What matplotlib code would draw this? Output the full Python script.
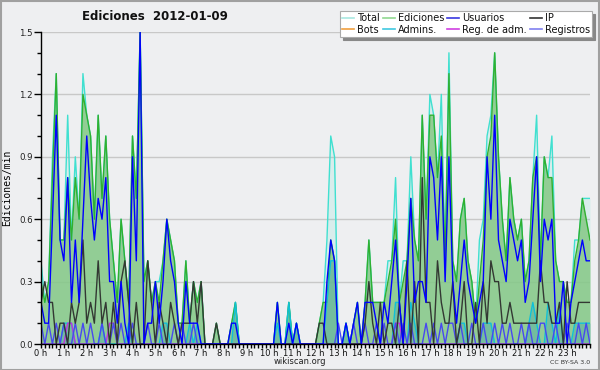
import matplotlib
matplotlib.use("Agg")
import matplotlib.pyplot as plt
from matplotlib.lines import Line2D
from matplotlib.patches import Rectangle
import numpy as np

# 10-minute bins, 0h .. 24h (145 points), values in edits/min
ediciones = [
    0.3, 0.2, 0.3, 0.8, 1.3, 0.5,
    0.5, 0.8, 0.5, 0.8, 0.6, 1.2,
    1.1, 1.0, 0.6, 1.1, 0.7, 1.0,
    0.6, 0.4, 0.2, 0.6, 0.4, 0.2,
    1.0, 0.7, 1.5, 0.3, 0.4, 0.2,
    0.3, 0.2, 0.4, 0.6, 0.5, 0.4,
    0.1, 0.1, 0.4, 0.1, 0.3, 0.2,
    0.3, 0.0, 0.0, 0.0, 0.1, 0.0,
    0.0, 0.0, 0.1, 0.2, 0.0, 0.0,
    0.0, 0.0, 0.0, 0.0, 0.0, 0.0,
    0.0, 0.0, 0.2, 0.0, 0.0, 0.2,
    0.0, 0.1, 0.0, 0.0, 0.0, 0.0,
    0.0, 0.1, 0.2, 0.2, 0.5, 0.4,
    0.0, 0.0, 0.1, 0.0, 0.1, 0.2,
    0.0, 0.2, 0.5, 0.2, 0.2, 0.2,
    0.2, 0.3, 0.4, 0.6, 0.2, 0.3,
    0.4, 0.7, 0.5, 0.4, 1.1, 0.6,
    1.1, 1.1, 0.8, 1.0, 0.4, 1.3,
    0.4, 0.3, 0.6, 0.7, 0.4, 0.3,
    0.1, 0.3, 0.5, 0.9, 1.0, 1.4,
    0.9, 0.6, 0.4, 0.8, 0.6, 0.5,
    0.6, 0.3, 0.4, 0.8, 0.9, 0.4,
    0.9, 0.8, 0.8, 0.4, 0.3, 0.3,
    0.2, 0.2, 0.4, 0.5, 0.7, 0.6,
    0.5,
]

total = [
    0.4, 0.2, 0.3, 0.9, 1.3, 0.5,
    0.5, 1.1, 0.5, 0.9, 0.6, 1.3,
    1.1, 1.0, 0.6, 1.1, 0.7, 1.0,
    0.6, 0.4, 0.2, 0.6, 0.4, 0.2,
    1.0, 0.7, 1.5, 0.3, 0.4, 0.2,
    0.3, 0.3, 0.4, 0.6, 0.5, 0.4,
    0.1, 0.1, 0.4, 0.1, 0.3, 0.2,
    0.3, 0.0, 0.0, 0.0, 0.1, 0.0,
    0.0, 0.0, 0.1, 0.2, 0.0, 0.0,
    0.0, 0.0, 0.0, 0.0, 0.0, 0.0,
    0.0, 0.0, 0.2, 0.0, 0.0, 0.2,
    0.0, 0.1, 0.0, 0.0, 0.0, 0.0,
    0.0, 0.1, 0.2, 0.5, 1.0, 0.9,
    0.0, 0.0, 0.1, 0.0, 0.1, 0.2,
    0.0, 0.2, 0.5, 0.2, 0.2, 0.2,
    0.2, 0.4, 0.4, 0.8, 0.2, 0.4,
    0.4, 0.9, 0.5, 0.4, 1.1, 0.6,
    1.2, 1.1, 0.8, 1.2, 0.4, 1.4,
    0.4, 0.3, 0.6, 0.7, 0.4, 0.3,
    0.1, 0.5, 0.6, 1.0, 1.1, 1.4,
    0.9, 0.6, 0.4, 0.8, 0.6, 0.5,
    0.6, 0.3, 0.4, 0.8, 1.1, 0.4,
    0.9, 0.8, 1.0, 0.4, 0.3, 0.3,
    0.2, 0.2, 0.5, 0.5, 0.7, 0.7,
    0.7,
]

usuarios = [
    0.2, 0.1, 0.1, 0.6, 1.1, 0.5,
    0.4, 0.8, 0.2, 0.5, 0.2, 0.6,
    1.0, 0.7, 0.5, 0.7, 0.6, 0.8,
    0.3, 0.3, 0.1, 0.3, 0.1, 0.0,
    0.9, 0.4, 1.5, 0.0, 0.1, 0.1,
    0.3, 0.1, 0.3, 0.6, 0.4, 0.3,
    0.1, 0.0, 0.3, 0.1, 0.1, 0.1,
    0.0, 0.0, 0.0, 0.0, 0.0, 0.0,
    0.0, 0.0, 0.1, 0.1, 0.0, 0.0,
    0.0, 0.0, 0.0, 0.0, 0.0, 0.0,
    0.0, 0.0, 0.2, 0.0, 0.0, 0.1,
    0.0, 0.1, 0.0, 0.0, 0.0, 0.0,
    0.0, 0.0, 0.0, 0.3, 0.5, 0.4,
    0.0, 0.0, 0.1, 0.0, 0.1, 0.2,
    0.0, 0.2, 0.2, 0.2, 0.1, 0.0,
    0.2, 0.1, 0.3, 0.5, 0.2, 0.0,
    0.3, 0.7, 0.2, 0.3, 0.3, 0.2,
    0.9, 0.8, 0.5, 0.9, 0.3, 0.9,
    0.3, 0.1, 0.3, 0.5, 0.3, 0.2,
    0.1, 0.2, 0.3, 0.9, 0.6, 1.1,
    0.5, 0.4, 0.3, 0.6, 0.5, 0.4,
    0.5, 0.2, 0.3, 0.6, 0.9, 0.3,
    0.6, 0.5, 0.6, 0.1, 0.1, 0.3,
    0.0, 0.2, 0.3, 0.4, 0.5, 0.4,
    0.4,
]

ip = [
    0.2, 0.3, 0.2, 0.2, 0.0, 0.1,
    0.1, 0.0, 0.2, 0.1, 0.2, 0.5,
    0.1, 0.2, 0.1, 0.4, 0.1, 0.2,
    0.0, 0.2, 0.0, 0.3, 0.4, 0.2,
    0.0, 0.2, 0.0, 0.0, 0.4, 0.2,
    0.0, 0.2, 0.1, 0.0, 0.2, 0.1,
    0.0, 0.1, 0.1, 0.1, 0.3, 0.1,
    0.3, 0.0, 0.0, 0.0, 0.1, 0.0,
    0.0, 0.0, 0.0, 0.0, 0.0, 0.0,
    0.0, 0.0, 0.0, 0.0, 0.0, 0.0,
    0.0, 0.0, 0.0, 0.0, 0.0, 0.0,
    0.0, 0.0, 0.0, 0.0, 0.0, 0.0,
    0.0, 0.1, 0.1, 0.0, 0.0, 0.0,
    0.0, 0.0, 0.0, 0.0, 0.0, 0.0,
    0.0, 0.1, 0.3, 0.1, 0.0, 0.2,
    0.0, 0.1, 0.1, 0.0, 0.2, 0.0,
    0.4, 0.0, 0.3, 0.0, 0.8, 0.2,
    0.2, 0.0, 0.4, 0.2, 0.1, 0.1,
    0.3, 0.0, 0.1, 0.3, 0.0, 0.0,
    0.2, 0.0, 0.3, 0.1, 0.4, 0.3,
    0.3, 0.1, 0.1, 0.2, 0.1, 0.1,
    0.1, 0.1, 0.1, 0.1, 0.1, 0.4,
    0.2, 0.2, 0.1, 0.1, 0.2, 0.0,
    0.3, 0.1, 0.1, 0.2, 0.2, 0.2,
    0.2,
]

admins = [
    0.0, 0.0, 0.0, 0.0, 0.0, 0.0,
    0.1, 0.1, 0.1, 0.0, 0.0, 0.0,
    0.0, 0.0, 0.0, 0.0, 0.1, 0.0,
    0.0, 0.0, 0.0, 0.0, 0.0, 0.1,
    0.0, 0.0, 0.0, 0.0, 0.0, 0.0,
    0.0, 0.0, 0.1, 0.1, 0.0, 0.0,
    0.0, 0.0, 0.0, 0.1, 0.0, 0.1,
    0.0, 0.0, 0.0, 0.0, 0.0, 0.0,
    0.0, 0.0, 0.0, 0.2, 0.0, 0.0,
    0.0, 0.0, 0.0, 0.0, 0.0, 0.0,
    0.0, 0.0, 0.1, 0.0, 0.0, 0.2,
    0.0, 0.1, 0.0, 0.0, 0.0, 0.0,
    0.0, 0.0, 0.0, 0.2, 0.4, 0.4,
    0.0, 0.0, 0.1, 0.0, 0.0, 0.0,
    0.0, 0.0, 0.0, 0.0, 0.0, 0.0,
    0.0, 0.0, 0.0, 0.2, 0.2, 0.0,
    0.0, 0.2, 0.1, 0.0, 0.0, 0.0,
    0.0, 0.0, 0.0, 0.0, 0.0, 0.0,
    0.0, 0.0, 0.1, 0.1, 0.0, 0.0,
    0.0, 0.0, 0.1, 0.1, 0.1, 0.0,
    0.0, 0.0, 0.0, 0.0, 0.0, 0.0,
    0.0, 0.0, 0.1, 0.2, 0.1, 0.0,
    0.0, 0.2, 0.1, 0.0, 0.2, 0.0,
    0.0, 0.0, 0.1, 0.1, 0.1, 0.1,
    0.1,
]

reg_adm = [
    0.0, 0.0, 0.0, 0.0, 0.0, 0.0,
    0.0, 0.1, 0.1, 0.0, 0.0, 0.0,
    0.0, 0.0, 0.0, 0.0, 0.0, 0.0,
    0.1, 0.1, 0.0, 0.0, 0.0, 0.0,
] + [0.0] * 69 + [0.1, 0.1] + [0.0] * 50

registros = [
    0.1, 0.0, 0.1, 0.0, 0.1, 0.0,
    0.1, 0.0, 0.0, 0.1, 0.0, 0.1,
    0.0, 0.1, 0.0, 0.0, 0.1, 0.0,
    0.0, 0.1, 0.0, 0.1, 0.0, 0.0,
    0.1, 0.0, 0.0, 0.0, 0.1, 0.0,
    0.0, 0.1, 0.0, 0.0, 0.0, 0.1,
    0.0, 0.1, 0.0, 0.0, 0.1, 0.0,
] + [0.0] * 36 + [
    0.1, 0.0, 0.0, 0.0, 0.1, 0.0,
    0.0, 0.1, 0.0, 0.0, 0.1, 0.0,
    0.1, 0.0, 0.0, 0.1, 0.0, 0.1,
    0.0, 0.1, 0.0, 0.0, 0.0, 0.1,
    0.0, 0.1, 0.0, 0.1, 0.0, 0.1,
    0.1, 0.0, 0.1, 0.0, 0.0, 0.1,
    0.0, 0.0, 0.1, 0.0, 0.0, 0.1,
    0.0, 0.1, 0.0, 0.1, 0.0, 0.0,
    0.1, 0.0, 0.1, 0.0, 0.0, 0.1,
    0.1, 0.0, 0.0, 0.1, 0.0, 0.0,
    0.1, 0.0, 0.0, 0.1, 0.0, 0.1,
    0.0,
]

bots = [0.0] * 145

hour_labels = [f"{h} h" for h in range(24)]
title = "Ediciones  2012-01-09"

x = np.arange(len(ediciones)) / 6.0

BG = "#eeeff1"
fig = plt.figure(figsize=(6.0, 3.7), dpi=100, facecolor=BG)
ax = fig.add_axes([41 / 600, 26 / 370, 549 / 600, 312 / 370])
ax.set_facecolor(BG)

# grid
ax.set_axisbelow(True)
ax.yaxis.grid(True, color="#c8c8c8", linewidth=1.0)

# fills
ax.fill_between(x, total, color="#40e0d0", alpha=0.12, linewidth=0, zorder=1)
ax.fill_between(x, ediciones, color="#86c886", alpha=0.85, linewidth=0, zorder=2)
ax.fill_between(x, admins, color="#3aa0b0", alpha=0.35, linewidth=0, zorder=2.5)

# lines
ax.plot(x, bots, color="#f0a040", linewidth=1.0, zorder=1.5)
ax.plot(x, total, color="#40e0d0", linewidth=1.0, zorder=3)
ax.plot(x, ediciones, color="#30b030", linewidth=1.0, zorder=4)
ax.plot(x, admins, color="#10c0d8", linewidth=1.0, zorder=5)
ax.plot(x, reg_adm, color="#c030e0", linewidth=1.0, zorder=5)
ax.plot(x, registros, color="#4848f0", linewidth=1.0, zorder=5)
ax.plot(x, ip, color="#333833", linewidth=1.0, zorder=6)
ax.plot(x, usuarios, color="#0000ff", linewidth=1.0, zorder=7)

ax.set_xlim(0, 24)
ax.set_ylim(0, 1.5)

for s in ["top", "right"]:
    ax.spines[s].set_visible(False)
ax.spines["left"].set_linewidth(1.0)
ax.spines["bottom"].set_linewidth(1.0)
ax.spines["left"].set_zorder(10)
ax.spines["bottom"].set_zorder(10)

ax.set_yticks([0.0, 0.3, 0.6, 0.9, 1.2, 1.5])
ax.set_yticklabels(["0.0", "0.3", "0.6", "0.9", "1.2", "1.5"], fontsize=6.2, color="#222")
ax.set_yticks(np.arange(0, 1.51, 0.1), minor=True)
ax.set_xticks(np.arange(24))
ax.set_xticklabels(hour_labels, fontsize=6, color="#111")
ax.set_xticks(np.arange(0, 24.01, 1 / 6), minor=True)
ax.tick_params(axis="y", which="major", length=5, width=1, pad=1, direction="out")
ax.tick_params(axis="y", which="minor", length=3, width=1, direction="out")
ax.tick_params(axis="x", which="major", length=3, width=1, pad=0.5, direction="out")
ax.tick_params(axis="x", which="minor", length=3, width=1, direction="out")

ax.set_ylabel("Ediciones/min", fontsize=7, family="DejaVu Sans Mono", labelpad=5)

fig.text(155 / 600, 1 - 17 / 370, title, fontsize=8.5, fontweight="bold",
         ha="center", va="center", color="#111")
fig.text(300 / 600, 1 - 362 / 370, "wikiscan.org", fontsize=6, ha="center",
         va="center", color="#222")
fig.text(590 / 600, 1 - 362 / 370, "CC BY-SA 3.0", fontsize=4.5, ha="right",
         va="center", color="#333")

handles = [
    Line2D([], [], color="#a8e8e0", lw=1.2, label="Total"),
    Line2D([], [], color="#f0a040", lw=1.2, label="Bots"),
    Line2D([], [], color="#90d890", lw=1.2, label="Ediciones"),
    Line2D([], [], color="#40c8e0", lw=1.2, label="Admins."),
    Line2D([], [], color="#3838e0", lw=1.2, label="Usuarios"),
    Line2D([], [], color="#d040e0", lw=1.2, label="Reg. de adm."),
    Line2D([], [], color="#333333", lw=1.2, label="IP"),
    Line2D([], [], color="#8080f0", lw=1.2, label="Registros"),
]
leg = fig.legend(handles=handles, ncol=4, loc="upper right",
                 bbox_to_anchor=(592 / 600, 1 - 11 / 370), fontsize=7,
                 frameon=True, fancybox=False, shadow={"color": "#888888", "alpha": 1.0},
                 borderpad=0.2, labelspacing=0.2, handlelength=1.2,
                 handletextpad=0.35, columnspacing=0.3, borderaxespad=0)
leg.get_frame().set_edgecolor("#aaaaaa")
leg.get_frame().set_linewidth(0.8)
leg.get_frame().set_facecolor("white")
for t in leg.get_texts():
    t.set_color("#111")

fig.patches.append(Rectangle((0.001, 0.001), 0.997, 0.997, transform=fig.transFigure,
                             fill=False, edgecolor="#a0a0a0", linewidth=1.5))

fig.savefig("out.png", dpi=100, facecolor=BG)
